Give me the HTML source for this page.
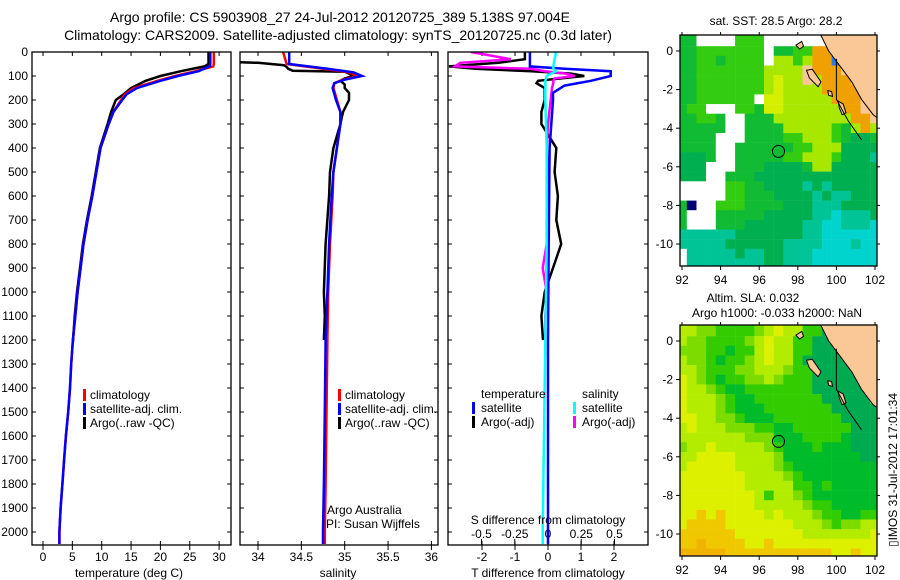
<!DOCTYPE html>
<html><head><meta charset="utf-8"><style>
html,body{margin:0;padding:0;background:#fff;width:900px;height:580px;overflow:hidden}
svg{display:block}
text{font-family:"Liberation Sans",sans-serif;fill:#000}
</style></head><body>
<svg id="fig" width="900" height="580" viewBox="0 0 900 580" xmlns="http://www.w3.org/2000/svg">
<defs>
<clipPath id="cp1"><rect x="32" y="52" width="199" height="493"/></clipPath>
<clipPath id="cp2"><rect x="240" y="52" width="198" height="493"/></clipPath>
<clipPath id="cp3"><rect x="448" y="52" width="200" height="493"/></clipPath>
<clipPath id="cm1"><rect x="680" y="35" width="197" height="231"/></clipPath>
<clipPath id="cm2"><rect x="680" y="325" width="197" height="231"/></clipPath>
</defs>
<text x="340" y="22" font-size="14" text-anchor="middle">Argo profile: CS 5903908_27 24-Jul-2012 20120725_389 5.138S 97.004E</text>
<text x="338" y="40" font-size="14" text-anchor="middle">Climatology: CARS2009. Satellite-adjusted climatology: synTS_20120725.nc (0.3d later)</text>
<text x="776" y="25" font-size="12" text-anchor="middle">sat. SST: 28.5 Argo: 28.2</text>
<text x="753" y="302" font-size="12" text-anchor="middle">Altim. SLA: 0.032</text>
<text x="777" y="317" font-size="12" text-anchor="middle">Argo h1000: -0.033 h2000: NaN</text>
<text transform="translate(897,470) rotate(-90)" font-size="12" text-anchor="middle">▯IMOS 31-Jul-2012 17:01:34</text>
<g id="g1"></g>
<g id="g2"></g>
<g id="g3"></g>
<g id="m1"></g>
<g id="m2"></g>
</svg>
<script>
// ---- profile data ----
const depths=[0,50,60,80,100,120,150,175,200,250,300,400,500,600,700,800,900,1000,1100,1200,1300,1400,1500,1600,1700,1800,1900,2000,2050];
const climT=[29.1,29.1,29.0,26,22.5,19.5,15.5,14,13.3,12,11.2,9.8,9.1,8.4,7.6,6.9,6.4,5.9,5.5,5.1,4.8,4.6,4.3,3.9,3.6,3.3,3.0,2.8,2.8];
const satT=[28.5,28.5,28.4,26.5,23,20,16,14.3,13.5,12,11.2,9.8,9.1,8.4,7.6,6.9,6.4,5.9,5.5,5.1,4.8,4.6,4.3,3.9,3.6,3.3,3.0,2.8,2.8];
const argoDepths=[0,50,60,80,100,120,150,175,200,250,300,400,500,600,700,800,900,1000,1100,1210];
const argoT=[28.2,28.2,27.5,23.5,20,17.5,15,13.8,12.4,11.6,11,9.7,9.0,8.3,7.5,6.8,6.3,5.8,5.4,5.1];
const sDepths=[0,50,70,85,100,115,130,150,200,250,300,400,500,600,800,1000,1200,1500,1800,2000,2050];
const climS=[34.29,34.33,34.75,35.05,35.15,34.98,34.88,34.87,34.91,34.95,34.95,34.91,34.87,34.86,34.83,34.81,34.80,34.79,34.78,34.77,34.77];
const satS=[34.36,34.36,34.8,35.1,35.2,35.0,34.88,34.86,34.9,34.95,34.95,34.91,34.87,34.85,34.82,34.8,34.78,34.77,34.76,34.75,34.75];
const argoSDepths=[40,45,55,62,70,78,82,90,100,110,120,135,150,170,200,250,300,400,500,600,800,1000,1100,1200];
const argoS=[33.5,34.0,34.3,34.33,34.35,34.4,35.0,35.05,35.1,35.0,34.95,35.0,35.0,35.05,35.05,34.98,34.95,34.87,34.83,34.82,34.78,34.76,34.77,34.76];
const dDepths=[0,30,45,60,70,80,90,100,110,120,130,150,200,250,300,400,500,600,700,800,900,1000,1100,1200];
const argoTd=[-0.7,-0.7,-1.5,-3,-2.2,-0.5,0.7,1.1,0.4,-0.3,-0.35,-0.1,-0.1,-0.2,-0.2,0.25,0.2,0.3,0.25,0.4,0.15,-0.1,-0.2,-0.15];
const argoSd=[-0.58,-0.28,-0.66,-0.7,-0.13,-0.02,0.13,0.2,0.05,0.04,0.04,0.03,0.02,0.01,0,-0.01,0,0,-0.01,-0.01,-0.04,-0.01,-0.02,-0.02];
const sdDepths=[0,60,70,80,100,120,140,170,200,400,800,1200,1600,2000,2050];
const satTd=[-0.55,-0.55,0.5,1.9,1.9,1.3,0.5,0.15,0.15,0.05,0.02,0,0,0,0];
const satSd=[0.06,0.04,0.04,0.06,-0.01,-0.02,-0.02,-0.02,-0.02,-0.01,-0.01,-0.02,-0.03,-0.04,-0.04];
// ---- axis ticks ----
const depthTicks=[0,100,200,300,400,500,600,700,800,900,1000,1100,1200,1300,1400,1500,1600,1700,1800,1900,2000];
const tempTicks=[0,5,10,15,20,25,30];
const salTicks=[34,34.5,35,35.5,36];
const tdTicks=[-2,-1,0,1,2];
const sdTicks=[-0.5,-0.25,0,0.25,0.5];
const sdTickLabels=["-0.5","-0.25","0","0.25","0.5"];
const lonTicks=[92,94,96,98,100,102];
const latTicks=[0,-2,-4,-6,-8,-10];
// ---- map grids (0.5 deg cells, lon 92..102, lat 0.5..-11), 21 chars each ----
const sstRows=[
"GGwwwwg"+"ggwwwww"+"wwlllll",
"GGggggg"+"ggwGGgg"+"oolllll",
"GGggGgg"+"ggwyygy"+"oobllll",
"GGggggg"+"ggyyyyl"+"ooollll",
"GGggggg"+"ggyYyyl"+"yooolll",
"GGggggg"+"ggyYyyy"+"yooooll",
"GGggggg"+"gwYYyyy"+"yyoooll",
"Gggwwwg"+"gGYYyyy"+"yyyooll",
"GGggGww"+"GGGyyyy"+"yyyyool",
"GGGGGww"+"GGGGyyy"+"yygGyoy",
"GGGGwww"+"GGGGggy"+"yygGddG",
"GGGGwwG"+"GGGGGgg"+"yyydddd",
"dddGwwG"+"GGGGggy"+"yygdddt",
"dddwwwG"+"GGddddG"+"yyddddd",
"dddwwGG"+"Gdddddd"+"ddddddd",
"wwwwwgg"+"GGddddt"+"dtddddd",
"wwwwwgg"+"GGGdddd"+"tdttddd",
"Gnwwggg"+"GGGGddd"+"tttdddd",
"GwwwGGG"+"GGddddd"+"ttctttd",
"GwwwGGG"+"ddddddt"+"tcctttc",
"ttttttd"+"ddddddt"+"tcccccc",
"tttttdd"+"ddddttt"+"tccctcc",
"wtttttd"+"ttddttt"+"ccccccc",
"wtttttt"+"ttddttt"+"ccccccc"];
const slaRows=[
"yyllggg"+"glyYyyg"+"gdlllll",
"yllgggg"+"lyYyygg"+"dddllll",
"lllggGg"+"gyYyygg"+"ddddlll",
"yllgGgg"+"lyYyygd"+"ddddlll",
"yylgggl"+"lyyylgg"+"dddddll",
"YylgGgg"+"llylggg"+"ddddddl",
"YyylgGG"+"ggggggg"+"ddddddl",
"YyyylgG"+"Ggggggg"+"gdddddl",
"YyyylgG"+"GGggggg"+"ggddddd",
"YYyyllg"+"GGGgggg"+"gggdddd",
"yYyyyll"+"lggGGgg"+"ggggddd",
"yyyyyyy"+"lllGGGg"+"gggGddd",
"lyyYyyy"+"yylgGGG"+"gGGGddd",
"yyYYYYy"+"yyylGGG"+"GGGGGdd",
"yYYYYYy"+"yyylgGG"+"GGGGGGG",
"YYYYYYY"+"yyyylgG"+"GGGGGGG",
"YYYYYYY"+"yyyyygg"+"GgGGGGG",
"YYYYYYY"+"Yygyylg"+"GGGGGGG",
"YYYYYYY"+"Yyyyyyl"+"ggGGGGG",
"YYoYoYY"+"YYyYyyy"+"lggGGgg",
"YooooYY"+"YYYYYyy"+"ylgllyy",
"ooooooY"+"YYYYYYy"+"yyyyyyY",
"ooOoooo"+"YYoYYYY"+"YYYYYYY",
"OOOOOoo"+"ooooooo"+"ooYYoYY"];
const argoLon=97.0, argoLat=-5.2;
const landPoly=[[99.1,1.0],[99.2,0.8],[99.6,0],[100.2,-0.8],[100.8,-1.6],[101.3,-2.5],[101.9,-3.3],[102.3,-3.6],[102.3,1.0]];
const islands=[[[98.45,-1.0],[98.75,-0.95],[99.2,-1.6],[99.05,-1.85],[98.6,-1.4]],[[99.55,-2.05],[99.75,-2.1],[99.8,-2.35],[99.6,-2.3]],[[100.1,-2.6],[100.35,-2.75],[100.5,-3.2],[100.3,-3.3],[100.15,-2.95]],[[97.9,0.3],[98.1,0.1],[98.3,0.25],[98.2,0.5]]];
const trench=[[100.0,-0.4],[100.0,-2.5],[100.6,-3.6],[101.3,-4.6]];

const NS="http://www.w3.org/2000/svg";
function mk(tag,attrs,parent){const e=document.createElementNS(NS,tag);for(const k in attrs)e.setAttribute(k,attrs[k]);parent.appendChild(e);return e;}
const yD=d=>52+d*0.24;
const xT=t=>43+t*5.87;
const xS=s=>258+(s-34)*86.7;
const xTd=v=>548+v*33;
const xSd=v=>548+v*133;

function stepLine(g,ds,vs,fx,color,name,clip){
  let pts=[];
  for(let i=0;i<ds.length;i++){pts.push(fx(vs[i]).toFixed(1)+","+yD(ds[i]).toFixed(1));}
  const p=mk("polyline",{points:pts.join(" "),fill:"none",stroke:color,"stroke-width":"2.5","clip-path":"url(#"+clip+")"},g);
  
  
}
function frame(g,x,w,name){
  const r=mk("rect",{x:x,y:52,width:w,height:493,fill:"none",stroke:"#000","stroke-width":"1.3"},g);
  
  
}
function xTicks(g,ticks,labels,fx,y0,labelY,name){
  ticks.forEach((t,i)=>{
    const x=fx(t);
    mk("line",{x1:x,y1:y0-4,x2:x,y2:y0+5,stroke:"#000","stroke-width":"1"},g);
    mk("line",{x1:x,y1:52,x2:x,y2:56,stroke:"#000","stroke-width":"1"},g);
    const tx=mk("text",{x:x,y:labelY,"font-size":"12","text-anchor":"middle"},g);
    tx.textContent=labels[i];
    
    
  });
}
function yTicks(g,x0,x1){
  depthTicks.forEach(d=>{
    const y=yD(d);
    mk("line",{x1:x0,y1:y,x2:x0+4,y2:y,stroke:"#000","stroke-width":"1"},g);
    mk("line",{x1:x1-4,y1:y,x2:x1,y2:y,stroke:"#000","stroke-width":"1"},g);
  });
}
function label(g,x,y,txt,name,size,anchor){
  const t=mk("text",{x:x,y:y,"font-size":size||12,"text-anchor":anchor||"start"},g);
  t.textContent=txt;
  
  
  return t;
}
function legendMark(g,x,y,color,name){
  const r=mk("rect",{x:x,y:y-10,width:3,height:12,fill:color},g);
  
  
}

// Panel 1
const g1=document.getElementById("g1");
depthTicks.forEach(d=>{label(g1,28,yD(d)+4,String(d),"depth-tick-label",12,"end");});
yTicks(g1,32,231);
xTicks(g1,tempTicks,tempTicks.map(String),xT,545,561,"temperature-tick-label");
stepLine(g1,argoDepths,argoT,xT,"#000","argo-temperature-line","cp1");
stepLine(g1,depths,climT,xT,"#f00","climatology-temperature-line","cp1");
stepLine(g1,depths,satT,xT,"#00f","satellite-temperature-line","cp1");
frame(g1,32,199,"temperature-plot-frame");
label(g1,129,577,"temperature (deg C)","temperature-axis-title",12,"middle");
legendMark(g1,83,399,"#f00","legend-climatology-mark");label(g1,90,399,"climatology","legend-climatology");
legendMark(g1,83,413,"#00f","legend-satellite-mark");label(g1,90,413,"satellite-adj. clim.","legend-satellite");
legendMark(g1,83,427,"#000","legend-argo-mark");label(g1,90,427,"Argo(..raw -QC)","legend-argo");

// Panel 2
const g2=document.getElementById("g2");
yTicks(g2,240,438);
xTicks(g2,salTicks,salTicks.map(String),xS,545,561,"salinity-tick-label");
stepLine(g2,argoSDepths,argoS,xS,"#000","argo-salinity-line","cp2");
stepLine(g2,sDepths,climS,xS,"#f00","climatology-salinity-line","cp2");
stepLine(g2,sDepths,satS,xS,"#00f","satellite-salinity-line","cp2");
frame(g2,240,198,"salinity-plot-frame");
label(g2,338,577,"salinity","salinity-axis-title",12,"middle");
legendMark(g2,338,399,"#f00","legend-climatology-mark");label(g2,345,399,"climatology","legend-climatology");
legendMark(g2,338,413,"#00f","legend-satellite-mark");label(g2,345,413,"satellite-adj. clim.","legend-satellite");
legendMark(g2,338,427,"#000","legend-argo-mark");label(g2,345,427,"Argo(..raw -QC)","legend-argo");
label(g2,327,514,"Argo Australia","argo-australia-label");
label(g2,326,528,"PI: Susan Wijffels","pi-label");

// Panel 3
const g3=document.getElementById("g3");
yTicks(g3,448,648);
xTicks(g3,tdTicks,tdTicks.map(String),xTd,545,561,"t-difference-tick-label");
sdTicks.forEach((v,i)=>{const x=xSd(v);mk("line",{x1:x,y1:539,x2:x,y2:545,stroke:"#000","stroke-width":"1"},g3);label(g3,x,538,sdTickLabels[i],"s-difference-tick-label",12,"middle");});
stepLine(g3,dDepths,argoTd,xTd,"#000","argo-t-difference-line","cp3");
stepLine(g3,dDepths,argoSd,xSd,"#f0f","argo-s-difference-line","cp3");
stepLine(g3,sdDepths,satTd,xTd,"#00f","satellite-t-difference-line","cp3");
stepLine(g3,sdDepths,satSd,xSd,"#0ff","satellite-s-difference-line","cp3");
frame(g3,448,200,"difference-plot-frame");
label(g3,548,524,"S difference from climatology","s-difference-axis-title",12,"middle");
label(g3,548,577,"T difference from climatology","t-difference-axis-title",12,"middle");
label(g3,481,398,"temperature","legend-temperature-header");
label(g3,582,398,"salinity","legend-salinity-header");
legendMark(g3,472,412,"#00f","legend-t-satellite-mark");label(g3,481,412,"satellite","legend-t-satellite");
legendMark(g3,472,426,"#000","legend-t-argo-mark");label(g3,481,426,"Argo(-adj)","legend-t-argo");
legendMark(g3,573,412,"#0ff","legend-s-satellite-mark");label(g3,582,412,"satellite","legend-s-satellite");
legendMark(g3,573,426,"#f0f","legend-s-argo-mark");label(g3,582,426,"Argo(-adj)","legend-s-argo");

// Maps
const sstColors={w:"#fff",g:"#33cc11",G:"#11bb33",d:"#00b050",t:"#00c496",c:"#00d4cc",y:"#a8e800",Y:"#d4f000",o:"#f0a000",l:"#f9c896",n:"#000077",b:"#2a7ae8"};
const slaColors={Y:"#dcf000",y:"#b4ec00",l:"#7cdc00",g:"#33cc00",G:"#00bb2a",d:"#00aa50",o:"#f0c800",O:"#f0b400"};
function drawMap(id,rows,colors,top,lat0y,clip,labelY){
  const g=document.getElementById(id);
  const mx=lon=>682+(lon-92)*19.3;
  const my=lat=>lat0y-lat*19.3;
  const cg=mk("g",{"clip-path":"url(#"+clip+")"},g);
  rows.forEach((s,i)=>{
    const lat=0.5-i*0.5;
    for(let j=0;j<21;j++){
      const ch=s[j];
      const lon=92+j*0.5;
      const x=mx(lon-0.25)-(j===0?5:0), y=my(lat+0.25)-(i===0?10:0);
      const c=mk("rect",{x:x.toFixed(1),y:y.toFixed(1),width:(9.9+(j===0?5:0)).toFixed(1),height:(9.9+(i===0?10:0)).toFixed(1),fill:colors[ch]||"#fff"},cg);
      
      
    }
  });
  const lp=mk("polygon",{points:landPoly.map(p=>mx(p[0]).toFixed(1)+","+my(p[1]).toFixed(1)).join(" "),fill:"#f9c896",stroke:"#000","stroke-width":"1"},cg);
  
  
  islands.forEach(isl=>{
    const ip=mk("polygon",{points:isl.map(p=>mx(p[0]).toFixed(1)+","+my(p[1]).toFixed(1)).join(" "),fill:"#f9c896",stroke:"#000","stroke-width":"1"},cg);
    
    
  });
  const tr=mk("polyline",{points:trench.map(p=>mx(p[0]).toFixed(1)+","+my(p[1]).toFixed(1)).join(" "),fill:"none",stroke:"#000","stroke-width":"1"},cg);
  
  
  const ci=mk("circle",{cx:mx(argoLon),cy:my(argoLat),r:6,fill:"none",stroke:"#000","stroke-width":"1"},g);
  
  
  const fr=mk("rect",{x:680,y:top,width:197,height:231,fill:"none",stroke:"#000","stroke-width":"1.3"},g);
  
  
  lonTicks.forEach(l=>{const x=mx(l);
    mk("line",{x1:x,y1:top-3,x2:x,y2:top,stroke:"#000"},g);
    mk("line",{x1:x,y1:top+231,x2:x,y2:top+235,stroke:"#000"},g);
    label(g,x,labelY,String(l),"longitude-tick-label",12,"middle");});
  latTicks.forEach(l=>{const y=my(l);
    mk("line",{x1:676,y1:y,x2:680,y2:y,stroke:"#000"},g);
    mk("line",{x1:877,y1:y,x2:880,y2:y,stroke:"#000"},g);
    label(g,673,y+4,String(l),"latitude-tick-label",12,"end");});
}
drawMap("m1",sstRows,sstColors,35,51,"cm1",284);
drawMap("m2",slaRows,slaColors,325,341,"cm2",574);
</script>
</body></html>
